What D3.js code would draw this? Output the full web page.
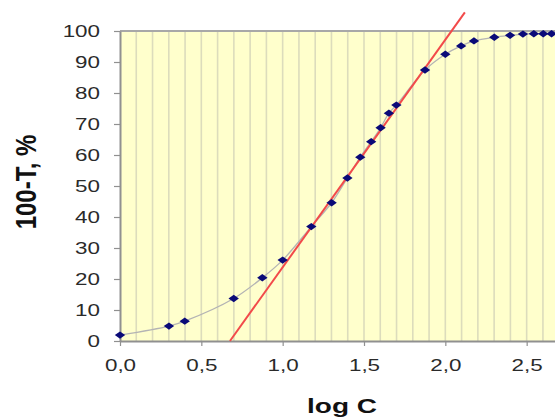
<!DOCTYPE html>
<html><head><meta charset="utf-8">
<script src="https://cdn.jsdelivr.net/npm/d3@7"></script>
<style>body{margin:0;background:#fff}svg{display:block}</style>
</head><body>
<div id="chart"></div>
<script>
// Data
const logC = [0.0, 0.301, 0.398, 0.699, 0.875, 1.0, 1.176, 1.301, 1.398, 1.477, 1.544, 1.602, 1.653, 1.699, 1.875, 2.0, 2.097, 2.176, 2.301, 2.398, 2.477, 2.544, 2.602, 2.653];
const absorb = [1.9, 4.8, 6.4, 13.7, 20.4, 26.1, 36.9, 44.6, 52.6, 59.3, 64.3, 68.8, 73.5, 76.1, 87.4, 92.5, 95.2, 96.8, 98.0, 98.6, 99.0, 99.1, 99.1, 99.1];
const tangentX = [0.676, 2.12];
const tangentY = [0, 106];
const xTicks = [0, 0.5, 1.0, 1.5, 2.0, 2.5];
const yTicks = [0, 10, 20, 30, 40, 50, 60, 70, 80, 90, 100];
const xGrid = d3.range(1, 30).map(i => i / 10);

const W = 555, H = 420, SX = 1.4;
const svg = d3.select("#chart").append("svg").attr("width", W).attr("height", H)
  .style("font-family", "'Liberation Sans', Arial, sans-serif");

const x = d3.scaleLinear().domain([0, 3]).range([120, 608]);
const y = d3.scaleLinear().domain([0, 100]).range([341, 31]);

// plot background
svg.append("rect").attr("x", x(0)).attr("y", y(100))
  .attr("width", x(3) - x(0)).attr("height", y(0) - y(100)).attr("fill", "#ffffcc");

// vertical gridlines
svg.append("g").selectAll("line").data(xGrid).join("line")
  .attr("x1", d => x(d)).attr("x2", d => x(d))
  .attr("y1", y(100)).attr("y2", y(0))
  .attr("stroke", "#dcdcbc").attr("stroke-width", 1.6);

// top border
svg.append("line").attr("x1", x(0)).attr("x2", x(3)).attr("y1", y(100)).attr("y2", y(100))
  .attr("stroke", "#a8a8a8").attr("stroke-width", 2);

// axes
const fmt = d => d3.format(".1f")(d).replace(".", ",");
const gx = svg.append("g").attr("transform", `translate(0,${y(0)})`)
  .call(d3.axisBottom(x).tickValues(xTicks).tickFormat(fmt).tickSize(5).tickPadding(14).tickSizeOuter(0));
const gy = svg.append("g").attr("transform", `translate(${x(0)},0)`)
  .call(d3.axisLeft(y).tickValues(yTicks).tickSize(6).tickPadding(14).tickSizeOuter(0));

[gx, gy].forEach(g => {
  g.select(".domain").attr("stroke", "#909090").attr("stroke-width", 2);
  g.selectAll(".tick line").attr("stroke", "#909090").attr("stroke-width", 1.2);
  g.selectAll(".tick text").attr("fill", "#2a2a2a").attr("font-size", 16)
    .attr("font-family", "'Liberation Sans', Arial, sans-serif");
});
gy.selectAll(".tick text").attr("x", -20 / SX).attr("transform", `scale(${SX},1)`);
gx.selectAll(".tick text").attr("transform", `scale(${SX},1)`);

// smoothed grey connecting line
const line = d3.line().x((d, i) => x(logC[i])).y(d => y(d)).curve(d3.curveCatmullRom.alpha(0.5));
svg.append("path").datum(absorb).attr("d", line)
  .attr("fill", "none").attr("stroke", "#b4b4b4").attr("stroke-width", 1.3);

// red tangent line
svg.append("line")
  .attr("x1", x(tangentX[0])).attr("y1", y(tangentY[0]))
  .attr("x2", x(tangentX[1])).attr("y2", y(tangentY[1]))
  .attr("stroke", "#f24a4a").attr("stroke-width", 2);

// diamond markers
svg.append("g").selectAll("path").data(absorb).join("path")
  .attr("transform", (d, i) => `translate(${x(logC[i])},${y(d)}) scale(${SX},1)`)
  .attr("d", "M0,-3.7L3.7,0L0,3.7L-3.7,0Z")
  .attr("fill", "#0a0a78");

// axis titles
svg.append("text").attr("transform", `translate(342,413) scale(${SX},1)`)
  .attr("text-anchor", "middle").attr("font-size", 20).attr("font-weight", "bold")
  .attr("fill", "#111").text("log C");
svg.append("text").attr("transform", `translate(36,182) scale(1.2,1) rotate(-90)`)
  .attr("text-anchor", "middle").attr("font-size", 24).attr("font-weight", "bold")
  .attr("fill", "#111").text("100-T, %");
</script>
</body></html>
